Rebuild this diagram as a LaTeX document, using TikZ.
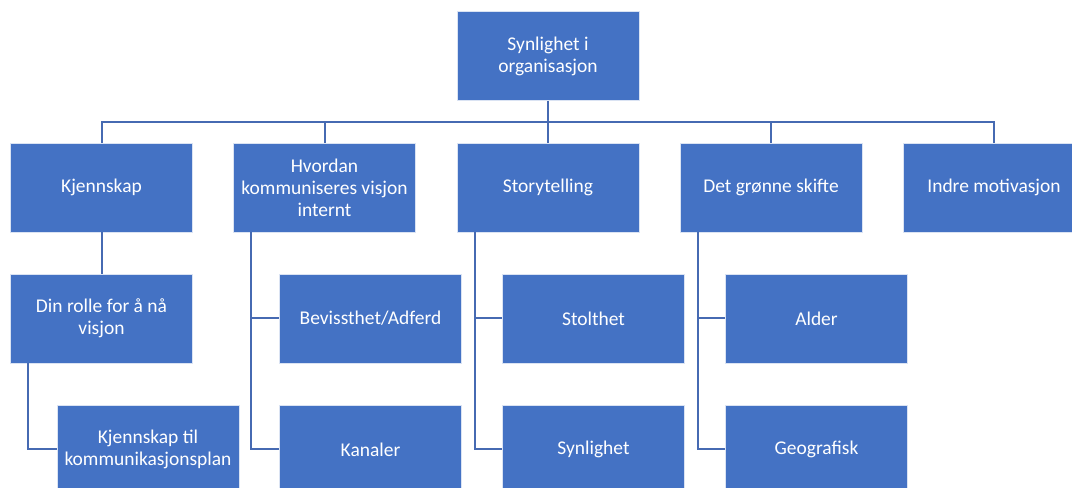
\documentclass[tikz,border=0pt]{standalone}
\usepackage{fontspec}
\setmainfont{Carlito}
\definecolor{boxblue}{RGB}{68,114,196}
\definecolor{lineblue}{RGB}{70,106,178}

\begin{document}
\begin{tikzpicture}[x=0.75pt,y=0.75pt,yscale=-1,xscale=1,
    orgbox/.style={fill=boxblue,draw=white!80!boxblue,line width=0.4pt,minimum width=136.5pt,minimum height=66.75pt,inner sep=0pt,align=center,text=white,font=\fontsize{14.6}{16.5}\selectfont},
    link/.style={draw=lineblue,line width=1.5pt}]
            \clip (0,0) rectangle (1072,488);
            \fill[white] (0,0) rectangle (1072,488);
            % top
            \draw (548,56) node [orgbox] (top) {Synlighet i\\organisasjon};
            % second row
            \draw (101.5,187.5) node [orgbox] (kj) {Kjennskap};
            \draw (324.5,187.5) node [orgbox] (hv) {Hvordan\\kommuniseres visjon\\internt};
            \draw (548,187.5) node [orgbox] (st) {Storytelling};
            \draw (771,187.5) node [orgbox] (gr) {Det grønne skifte};
            \draw (994,187.5) node [orgbox] (im) {Indre motivasjon};
            % third row
            \draw (101.5,318.5) node [orgbox] (din) {Din rolle for å nå\\visjon};
            \draw (370.5,318.5) node [orgbox] (bev) {Bevissthet/Adferd};
            \draw (593.5,318.5) node [orgbox] (sto) {Stolthet};
            \draw (816.5,318.5) node [orgbox] (ald) {Alder};
            % fourth row
            \draw (148,449.5) node [orgbox] (kom) {Kjennskap til\\kommunikasjonsplan};
            \draw (370.5,449.5) node [orgbox] (kan) {Kanaler};
            \draw (593.5,449.5) node [orgbox] (syn) {Synlighet};
            \draw (816.5,449.5) node [orgbox] (geo) {Geografisk};
            % connectors
            \coordinate (bus) at (548,122);
            \draw [link] (top.south) -- (top.south |- bus);
            \draw [link] (kj.north) -- (kj.north |- bus) -- (im.north |- bus) -- (im.north);
            \draw [link] (hv.north) -- (hv.north |- bus);
            \draw [link] (st.north) -- (st.north |- bus);
            \draw [link] (gr.north) -- (gr.north |- bus);
            \draw [link] (kj.south) -- (din.north);
            \coordinate (dinx) at ([xshift=13.5pt]din.south west);
            \draw [link] (dinx) |- (kom.west);
            \coordinate (hvx) at ([xshift=13.5pt]hv.south west);
            \draw [link] (hvx) |- (bev.west);
            \draw [link] (hvx) |- (kan.west);
            \coordinate (stx) at ([xshift=13.5pt]st.south west);
            \draw [link] (stx) |- (sto.west);
            \draw [link] (stx) |- (syn.west);
            \coordinate (grx) at ([xshift=13.5pt]gr.south west);
            \draw [link] (grx) |- (ald.west);
            \draw [link] (grx) |- (geo.west);
          \end{tikzpicture}
\end{document}
